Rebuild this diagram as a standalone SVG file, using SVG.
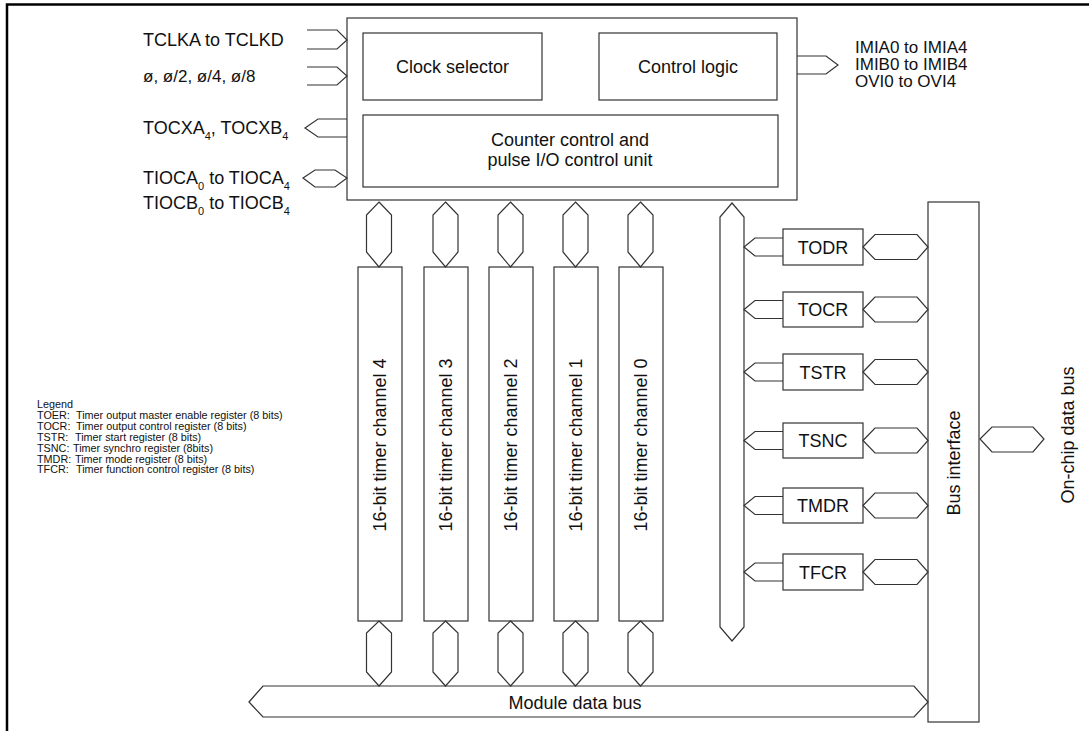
<svg xmlns="http://www.w3.org/2000/svg" width="1089" height="731" viewBox="0 0 1089 731">
<style>
.b{fill:#fff;stroke:#333;stroke-width:1.2}
.c{fill:none;stroke:#333;stroke-width:1.2}
.t{font-family:"Liberation Sans",Arial,sans-serif;font-size:18px;fill:#111}
.r{font-size:17px}
.m{text-anchor:middle}
.s{font-size:11px}
.lg{font-family:"Liberation Sans",Arial,sans-serif;font-size:10.8px;fill:#111}
</style>
<rect x="0" y="0" width="1089" height="731" fill="#fff"/>
<path d="M7,731 V4.5 H1089" fill="none" stroke="#000" stroke-width="2.5"/>

<g id="control-unit">
<rect class="b" x="347" y="18" width="450" height="182"/>
</g>
<g id="clock-selector">
<rect class="b" x="363" y="33" width="179" height="67"/>
<text class="t m" x="452.5" y="73">Clock selector</text>
</g>
<g id="control-logic">
<rect class="b" x="599" y="33" width="178" height="67"/>
<text class="t m" x="688" y="73">Control logic</text>
</g>
<g id="counter-control">
<rect class="b" x="363" y="115" width="415" height="72"/>
<text class="t m" x="570" y="146">Counter control and</text>
<text class="t m" x="570" y="166">pulse I/O control unit</text>
</g>

<g id="channels">
<g id="ch4"><rect class="b" x="358" y="267" width="44" height="354"/><text class="t m" transform="translate(380,445) rotate(-90)" dominant-baseline="central">16-bit timer channel 4</text></g>
<g id="ch3"><rect class="b" x="424" y="267" width="44" height="354"/><text class="t m" transform="translate(446,445) rotate(-90)" dominant-baseline="central">16-bit timer channel 3</text></g>
<g id="ch2"><rect class="b" x="489" y="267" width="44" height="354"/><text class="t m" transform="translate(511,445) rotate(-90)" dominant-baseline="central">16-bit timer channel 2</text></g>
<g id="ch1"><rect class="b" x="554" y="267" width="44" height="354"/><text class="t m" transform="translate(576,445) rotate(-90)" dominant-baseline="central">16-bit timer channel 1</text></g>
<g id="ch0"><rect class="b" x="619" y="267" width="44" height="354"/><text class="t m" transform="translate(641,445) rotate(-90)" dominant-baseline="central">16-bit timer channel 0</text></g>
</g>

<g id="registers">
<g id="TODR"><rect class="b" x="783" y="229" width="80" height="36"/><text class="t m" x="823" y="253.5">TODR</text></g>
<g id="TOCR"><rect class="b" x="783" y="292" width="80" height="35"/><text class="t m" x="823" y="316">TOCR</text></g>
<g id="TSTR"><rect class="b" x="783" y="354" width="80" height="36"/><text class="t m" x="823" y="378.5">TSTR</text></g>
<g id="TSNC"><rect class="b" x="783" y="423" width="80" height="35"/><text class="t m" x="823" y="447">TSNC</text></g>
<g id="TMDR"><rect class="b" x="783" y="488" width="80" height="35"/><text class="t m" x="823" y="512">TMDR</text></g>
<g id="TFCR"><rect class="b" x="783" y="554" width="80" height="36"/><text class="t m" x="823" y="578.5">TFCR</text></g>
</g>

<g id="bus-interface">
<rect class="b" x="928" y="202" width="51" height="520"/>
<text class="t m" transform="translate(954,463) rotate(-90)" dominant-baseline="central">Bus interface</text>
</g>

<g id="module-data-bus">
<polygon class="b" points="249,702 263,686 914,686 928,702 914,717 263,717"/>
<text class="t m" x="575" y="708.5">Module data bus</text>
</g>

<g id="connectors">
<polyline class="c" points="307,30 337,30 347,40 337,49 307,49"/>
<polyline class="c" points="307,67 337,67 347,76 337,85 307,85"/>
<polyline class="c" points="347,119 318,119 305,128 318,137 347,137"/>
<polygon class="c" points="303,178 315,170 335,170 347,178 335,187 315,187"/>
<polyline class="c" points="797,56 826,56 838,65 826,74 797,74"/>
<polygon class="c" points="379,202 391.5,215 391.5,252 379,267 366.5,252 366.5,215"/>
<polygon class="c" points="445.5,202 458,215 458,252 445.5,267 433,252 433,215"/>
<polygon class="c" points="510.5,202 523,215 523,252 510.5,267 498,252 498,215"/>
<polygon class="c" points="575.5,202 588,215 588,252 575.5,267 563,252 563,215"/>
<polygon class="c" points="640.5,202 653,215 653,252 640.5,267 628,252 628,215"/>
<polygon class="c" points="379,621 391.5,633 391.5,672 379,686 366.5,672 366.5,633"/>
<polygon class="c" points="445.5,621 458,633 458,672 445.5,686 433,672 433,633"/>
<polygon class="c" points="510.5,621 523,633 523,672 510.5,686 498,672 498,633"/>
<polygon class="c" points="575.5,621 588,633 588,672 575.5,686 563,672 563,633"/>
<polygon class="c" points="640.5,621 653,633 653,672 640.5,686 628,672 628,633"/>
<polygon class="c" points="732,203 744,217 744,627 732,641 720,627 720,217"/>
<polyline class="c" points="783,238 755,238 744,247 755,256 783,256"/>
<polyline class="c" points="783,300.5 755,300.5 744,309.5 755,318.5 783,318.5"/>
<polyline class="c" points="783,363 755,363 744,372 755,381 783,381"/>
<polyline class="c" points="783,431.5 755,431.5 744,440.5 755,449.5 783,449.5"/>
<polyline class="c" points="783,496.5 755,496.5 744,505.5 755,514.5 783,514.5"/>
<polyline class="c" points="783,563 755,563 744,572 755,581 783,581"/>
<polygon class="c" points="863,247 875,234.5 917,234.5 928,247 917,259.5 875,259.5"/>
<polygon class="c" points="863,309.5 875,297 917,297 928,309.5 917,322 875,322"/>
<polygon class="c" points="863,372 875,359.5 917,359.5 928,372 917,384.5 875,384.5"/>
<polygon class="c" points="863,440.5 875,428 917,428 928,440.5 917,453 875,453"/>
<polygon class="c" points="863,505.5 875,493 917,493 928,505.5 917,518 875,518"/>
<polygon class="c" points="863,572 875,559.5 917,559.5 928,572 917,584.5 875,584.5"/>
<polygon class="c" points="980,439 992,427 1033,427 1044,439 1033,452 992,452"/>
</g>

<g id="signal-labels">
<text class="t" x="143" y="46">TCLKA to TCLKD</text>
<text class="t" x="143" y="82" style="font-size:17px">ø, ø/2, ø/4, ø/8</text>
<text class="t" x="143" y="134">TOCXA<tspan class="s" dy="6">4</tspan><tspan dy="-6">, TOCXB</tspan><tspan class="s" dy="6">4</tspan></text>
<text class="t" x="143" y="184">TIOCA<tspan class="s" dy="6">0</tspan><tspan dy="-6"> to TIOCA</tspan><tspan class="s" dy="6">4</tspan></text>
<text class="t" x="143" y="209">TIOCB<tspan class="s" dy="6">0</tspan><tspan dy="-6"> to TIOCB</tspan><tspan class="s" dy="6">4</tspan></text>
<text class="t r" x="855" y="53">IMIA0 to IMIA4</text>
<text class="t r" x="855" y="70">IMIB0 to IMIB4</text>
<text class="t r" x="855" y="87">OVI0 to OVI4</text>
<text class="t m" transform="translate(1068,435) rotate(-90)" dominant-baseline="central">On-chip data bus</text>
</g>

<g id="legend">
<text class="lg" x="37" y="408">Legend</text>
<text class="lg" x="37" y="419">TOER:</text><text class="lg" x="76" y="419">Timer output master enable register (8 bits)</text>
<text class="lg" x="37" y="430">TOCR:</text><text class="lg" x="76" y="430">Timer output control register (8 bits)</text>
<text class="lg" x="37" y="441">TSTR:</text><text class="lg" x="75" y="441">Timer start register (8 bits)</text>
<text class="lg" x="37" y="452">TSNC:</text><text class="lg" x="73" y="452">Timer synchro register (8bits)</text>
<text class="lg" x="37" y="462.5">TMDR:</text><text class="lg" x="75" y="462.5">Timer mode register (8 bits)</text>
<text class="lg" x="37" y="473">TFCR:</text><text class="lg" x="76" y="473">Timer function control register (8 bits)</text>
</g>
</svg>
